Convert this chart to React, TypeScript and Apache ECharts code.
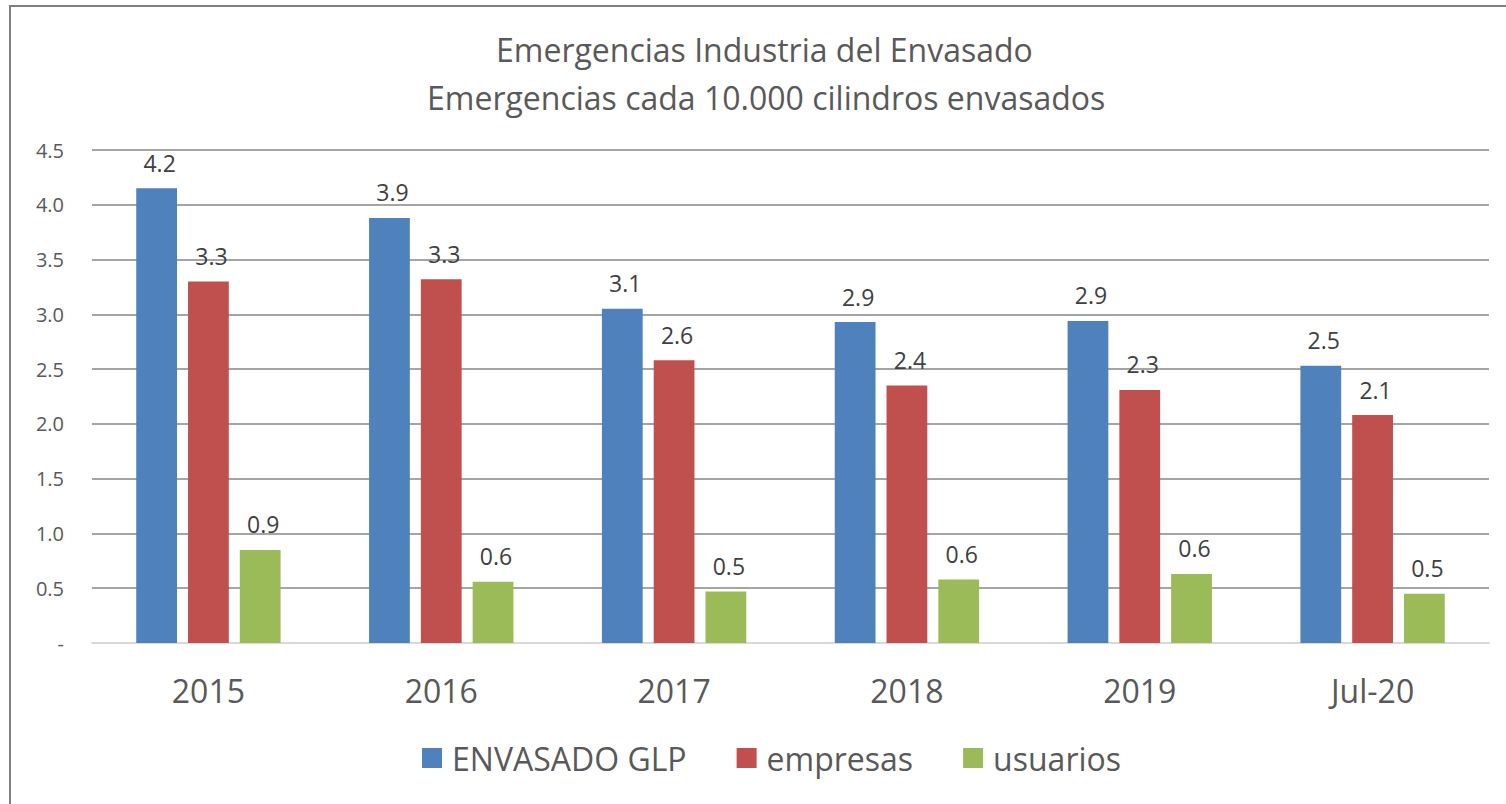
import React, { useEffect, useRef } from "react";
import * as echarts from "echarts";

const categories = ["2015", "2016", "2017", "2018", "2019", "Jul-20"];
const envasado = [4.15, 3.88, 3.05, 2.93, 2.94, 2.53];
const empresas = [3.3, 3.32, 2.58, 2.35, 2.31, 2.08];
const usuarios = [0.85, 0.56, 0.47, 0.58, 0.63, 0.45];
const seriesNames = ["ENVASADO GLP", "empresas", "usuarios"];
const titleLines = ["Emergencias Industria del Envasado", "Emergencias cada 10.000 cilindros envasados"];
const colors = ["#4F81BD", "#C0504D", "#9BBB59"];

const FONT = "'Open Sans', 'Noto Sans', sans-serif";

const fmt1 = (v: number) => (Math.round(v * 10) / 10).toFixed(1);

export default function App() {
  const ref = useRef<HTMLDivElement>(null);
  useEffect(() => {
    if (!ref.current) return;
    const chart = echarts.init(ref.current, undefined, { renderer: "svg" });
    const mkSeries = (name: string, data: number[], color: string) => ({
      name,
      type: "bar",
      data,
      barGap: "27%",
      barCategoryGap: "38%",
      itemStyle: { color },
      label: {
        show: true,
        position: "top",
        distance: 14,
        offset: [3, 0],
        color: "#404040",
        fontSize: 23,
        fontFamily: FONT,
        formatter: (p: any) => fmt1(p.value),
      },
    });
    const titleStyle = {
      color: "#595959",
      fontSize: 32,
      fontWeight: "normal",
      fontFamily: FONT,
      lineHeight: 48,
    };
    chart.setOption({
      animation: false,
      backgroundColor: "#ffffff",
      color: colors,
      title: [
        { text: titleLines[0], left: 496, top: 25, padding: 0, textStyle: titleStyle },
        { text: titleLines[1], left: 427, top: 73, padding: 0, textStyle: titleStyle },
      ],
      legend: {
        data: seriesNames,
        bottom: 30,
        left: 422,
        padding: 0,
        itemWidth: 20,
        itemHeight: 20,
        itemGap: 50,
        icon: "rect",
        textStyle: { color: "#595959", fontSize: 32, fontFamily: FONT, padding: [0, 0, 0, 5] },
      },
      grid: { left: 92, right: 17, top: 150, bottom: 161 },
      xAxis: {
        type: "category",
        data: categories,
        axisLine: { show: true, lineStyle: { color: "#D9D9D9", width: 2 } },
        axisTick: { show: false },
        axisLabel: { color: "#595959", fontSize: 32, fontFamily: FONT, margin: 31 },
      },
      yAxis: {
        type: "value",
        min: 0,
        max: 4.5,
        interval: 0.5,
        axisLine: { show: false },
        axisTick: { show: false },
        splitLine: { lineStyle: { color: "#878787", width: 1.5 } },
        axisLabel: {
          color: "#595959",
          fontSize: 20,
          fontFamily: FONT,
          margin: 28,
          formatter: (v: number) => (v === 0 ? "-" : v.toFixed(1)),
        },
      },
      graphic: [
        {
          type: "rect",
          shape: { x: 10, y: 6, width: 1520, height: 820 },
          style: { fill: "none", stroke: "#7F7F7F", lineWidth: 2 },
          silent: true,
        },
      ],
      series: [
        mkSeries(seriesNames[0], envasado, colors[0]),
        mkSeries(seriesNames[1], empresas, colors[1]),
        mkSeries(seriesNames[2], usuarios, colors[2]),
      ],
    });
    return () => chart.dispose();
  }, []);
  return (
    <div
      ref={ref}
      style={{ position: "fixed", left: 0, top: 0, width: 1506, height: 804 }}
    />
  );
}
